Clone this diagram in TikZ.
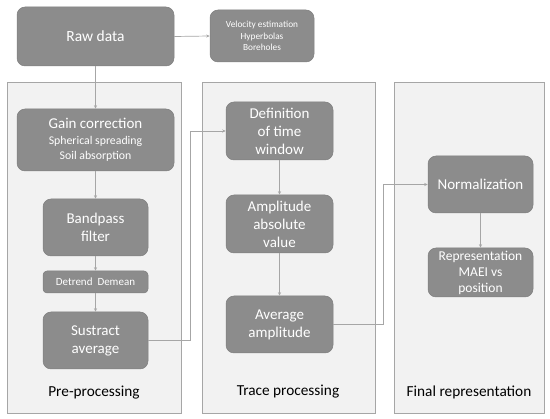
\documentclass[tikz,border=0pt]{standalone}
\usepackage{fontspec}
\setmainfont{Carlito}
\usetikzlibrary{arrows.meta}
\definecolor{boxg}{HTML}{8C8C8C}
\definecolor{boxd}{HTML}{7E7E7E}
\definecolor{panelf}{HTML}{F2F2F2}
\definecolor{paneld}{HTML}{A6A6A6}
\definecolor{lineg}{HTML}{A6A6A6}
\tikzset{
  panel/.style={fill=panelf,draw=paneld,line width=0.8pt},
  gbox/.style={fill=boxg,draw=boxd,line width=0.5pt,rounded corners=8pt,text=white,align=center,inner sep=0pt,font=\fontsize{15}{18}\selectfont},
  sbox/.style={gbox,font=\fontsize{9.5}{11.5}\selectfont},
  arr/.style={draw=lineg,line width=0.7pt,-{Stealth[length=3.5pt,width=3pt]}},
  lbl/.style={font=\fontsize{15.3}{18}\selectfont,text=black}
}
\begin{document}
\begin{tikzpicture}[x=1pt,y=1pt]
\useasboundingbox (0,0) rectangle (550,-419);
% panels
\draw[panel] (7,-82) rectangle (181,-413);
\draw[panel] (202,-82) rectangle (375,-413);
\draw[panel] (394,-82) rectangle (544,-413);
% top
\node[gbox,minimum width=157pt,minimum height=59pt,font=\fontsize{15.5}{18}\selectfont] (raw) at (95.5,-36.5) {Raw data};
\node[sbox,minimum width=104pt,minimum height=52pt,font=\fontsize{9.3}{11.2}\selectfont] (vel) at (262,-36) {Velocity estimation\\Hyperbolas\\Boreholes};
% pre-processing
\node[gbox,minimum width=157pt,minimum height=62pt] (gain) at (95.5,-140) {Gain correction\\[-2pt]{\fontsize{11.8}{13.5}\selectfont Spherical spreading}\\[-3pt]{\fontsize{11.8}{13.5}\selectfont Soil absorption}};
\node[gbox,minimum width=105pt,minimum height=57pt] (band) at (95.5,-227.5) {Bandpass\\filter};
\node[sbox,minimum width=105pt,minimum height=22pt,rounded corners=4pt,font=\fontsize{11}{13}\selectfont] (detr) at (95.5,-282) {Detrend\ \ Demean};
\node[gbox,minimum width=105pt,minimum height=57pt] (sust) at (95.5,-340.5) {Sustract\\average};
\node[lbl] (pre) at (94,-393) {Pre-processing};
% trace processing
\node[gbox,minimum width=107pt,minimum height=58pt] (def) at (279.5,-131) {Definition\\of time\\window};
\node[gbox,minimum width=107pt,minimum height=58pt] (amp) at (279.5,-224) {Amplitude\\absolute\\value};
\node[gbox,minimum width=107pt,minimum height=57pt] (avg) at (279.5,-324.5) {Average\\amplitude};
\node[lbl] (tra) at (288,-392) {Trace processing};
% final
\node[gbox,minimum width=105pt,minimum height=57pt] (norm) at (480.5,-184.5) {Normalization};
\node[gbox,minimum width=105pt,minimum height=49pt,font=\fontsize{13.5}{16}\selectfont] (repr) at (480.5,-272.5) {Representation\\MAEI vs\\position};
\node[lbl] (fin) at (469,-392) {Final representation};
% connectors
\draw[arr] (raw.east) -- (vel.west);
\draw[arr] (raw.south) -- (gain.north);
\draw[arr] (gain.south) -- (band.north);
\draw[arr] (band.south) -- (detr.north);
\draw[arr] (detr.south) -- (sust.north);
\draw[arr] (sust.east) -- ++(42,0) |- (def.west);
\draw[arr] (def.south) -- (amp.north);
\draw[arr] (amp.south) -- (avg.north);
\draw[arr] (avg.east) -- ++(50,0) |- (norm.west);
\draw[arr] (norm.south) -- (repr.north);
\end{tikzpicture}
\end{document}
